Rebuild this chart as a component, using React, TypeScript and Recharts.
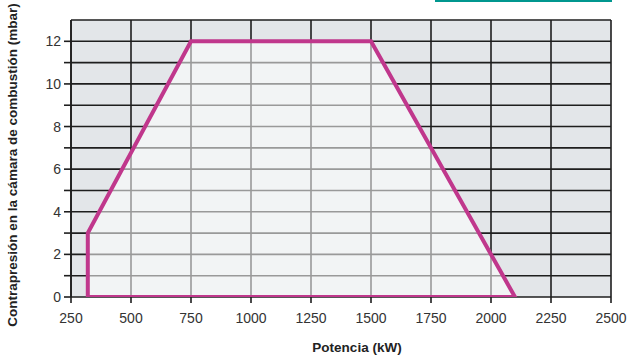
import React from 'react';
import { ComposedChart, Area, Line, XAxis, YAxis, CartesianGrid } from 'recharts';

// working envelope (power kW vs back pressure mbar)
const envelopeTop = [
    { x: 320, y: 3 },
    { x: 750, y: 12 },
    { x: 1500, y: 12 },
    { x: 2100, y: 0 },
];
const envelopeOutline = [
    { x: 320, y: 0 },
    { x: 320, y: 3 },
    { x: 750, y: 12 },
    { x: 1500, y: 12 },
    { x: 2100, y: 0 },
    { x: 320, y: 0 },
];

const xTicks = [250, 500, 750, 1000, 1250, 1500, 1750, 2000, 2250, 2500];
const yTicks = [0, 1, 2, 3, 4, 5, 6, 7, 8, 9, 10, 11, 12];
const yGrid = [0, 1, 2, 3, 4, 5, 6, 7, 8, 9, 10, 11, 12, 13];

const FONT = '"Liberation Sans", Arial, sans-serif';
const MAGENTA = '#c0378c';

export default function App() {
    return (
        <div style={{ position: 'absolute', left: 0, top: 0, width: 630, height: 360, background: '#fff', fontFamily: FONT }}>
            <div style={{ position: 'absolute', left: 435, top: 0, width: 177, height: 2, background: '#00978f' }} />
            <ComposedChart
                width={630}
                height={360}
                margin={{ top: 20, right: 19, left: 21, bottom: 33 }}
            >
                <CartesianGrid
                    fill="#e3e6e9"
                    stroke="#1e1e1e"
                    strokeWidth={1.6}
                    horizontalValues={yGrid}
                    verticalValues={xTicks}
                />
                <XAxis
                    type="number"
                    dataKey="x"
                    domain={[250, 2500]}
                    ticks={xTicks}
                    allowDataOverflow
                    height={30}
                    axisLine={false}
                    tickLine={{ stroke: '#1e1e1e', strokeWidth: 1.6 }}
                    tickSize={6}
                    tick={{ fill: '#333', fontSize: 14, fontFamily: FONT }}
                    tickMargin={10}
                />
                <YAxis
                    type="number"
                    dataKey="y"
                    domain={[0, 13]}
                    ticks={yTicks}
                    allowDataOverflow
                    width={50}
                    axisLine={{ stroke: '#1e1e1e', strokeWidth: 1.6 }}
                    tickLine={{ stroke: '#1e1e1e', strokeWidth: 1.6 }}
                    tickSize={7}
                    tickFormatter={(v: number) => (v % 2 === 0 ? String(v) : '')}
                    tick={{ fill: '#333', fontSize: 14, fontFamily: FONT }}
                    tickMargin={3}
                />
                <Area
                    data={envelopeTop}
                    dataKey="y"
                    type="linear"
                    baseValue={0}
                    stroke="none"
                    fill="#ffffff"
                    fillOpacity={0.55}
                    isAnimationActive={false}
                />
                <Line
                    data={envelopeOutline}
                    dataKey="y"
                    type="linear"
                    stroke={MAGENTA}
                    strokeWidth={4}
                    strokeLinejoin="miter"
                    dot={false}
                    activeDot={false}
                    isAnimationActive={false}
                />
            </ComposedChart>
            <div
                style={{
                    position: 'absolute',
                    left: 357,
                    top: 340,
                    transform: 'translateX(-50%)',
                    fontSize: 13.5,
                    fontWeight: 'bold',
                    color: '#222',
                    whiteSpace: 'nowrap',
                }}
            >
                Potencia (kW)
            </div>
            <div
                style={{
                    position: 'absolute',
                    left: 12,
                    top: 165,
                    transform: 'translate(-50%, -50%) rotate(-90deg)',
                    fontSize: 13.5,
                    fontWeight: 'bold',
                    color: '#222',
                    whiteSpace: 'nowrap',
                }}
            >
                Contrapresión en la cámara de combustión (mbar)
            </div>
        </div>
    );
}
